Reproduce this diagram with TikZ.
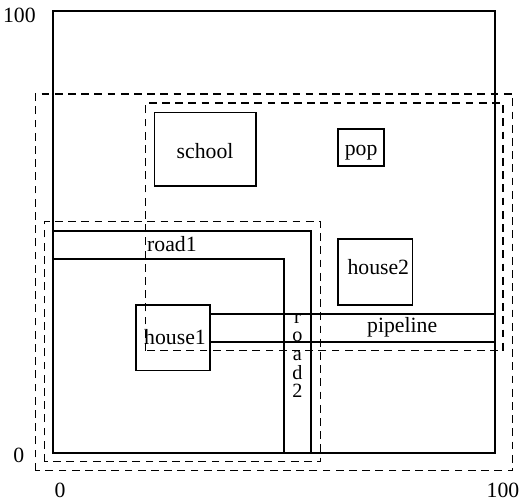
\documentclass[tikz,border=0pt]{standalone}
\usepackage{fontspec}
\setmainfont{Liberation Serif}
\begin{document}
\begin{tikzpicture}[x = 0.1cm, y = 0.1cm, line width = 0.9pt, font = \fontsize{14}{16}\selectfont]
\tikzset{zone/.style = {dash pattern = on 5pt off 3.5pt, line width = 0.8pt}}
\useasboundingbox (-12,-11.54) rectangle (105.66,102.49);
\draw (0,0) rectangle (100,100);
\draw[zone] (-4,-4) rectangle (104,81.2);
\draw[zone] (21,23.1) rectangle (101.8,79.2);
\draw[zone] (-2,-2) rectangle (60.6,52.3);
\draw (23,60.4) rectangle (45.9,77.1);
\draw (64.5,64.9) rectangle (74.9,73.3);
\draw (64.5,33.5) rectangle (81.4,48.4);
\draw (18.8,18.6) rectangle (35.5,33.5);
\draw (0,50.2) -- (58.4,50.2) -- (58.4,0) -- (52.3,0) -- (52.3,43.9) -- (0,43.9);
\draw (35.5,25.1) rectangle (100,31.4);
\node (school) at (34.4,68.3) {school};
\node (pop) at (69.7,68) {pop};
\node (house2) at (73.6,42) {house2};
\node (house1) at (27.6,26.2) {house1};
\node (road1) at (26.9,47.3) {road1};
\node (pipeline) at (79,28.4) {pipeline};
\node[align = center, inner sep = 0pt, font = \fontsize{13}{12}\selectfont] (road2) at (55.3,22) {r\\o\\a\\d\\2};
\node[anchor = east] (ymax) at (-2.6,99) {100};
\node[anchor = east] (ymin) at (-5.2,-0.6) {0};
\node (xmin) at (1.6,-8.5) {0};
\node (xmax) at (101.8,-8.5) {100};
\end{tikzpicture}
\end{document}
